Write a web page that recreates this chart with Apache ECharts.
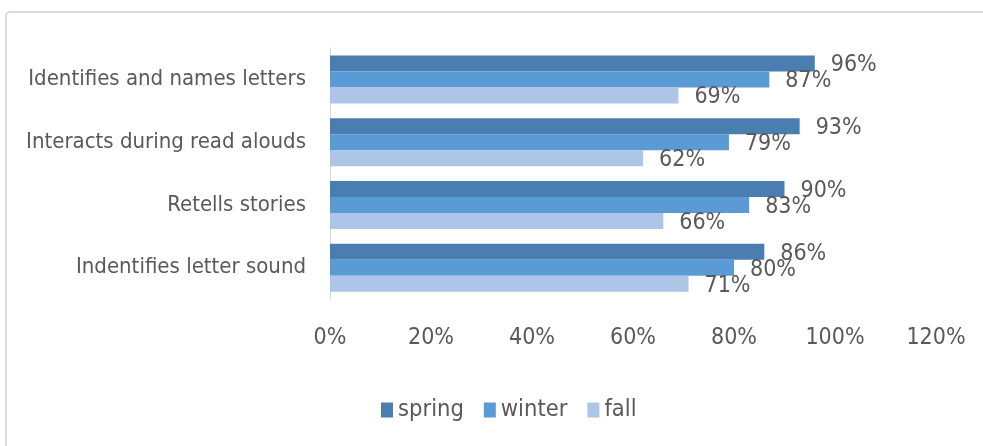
<!DOCTYPE html>
<html>
<head>
<meta charset="utf-8">
<script src="https://cdn.jsdelivr.net/npm/echarts@6/dist/echarts.min.js"></script>
<style>
html,body{margin:0;padding:0;background:#fff;}
#chart{width:983px;height:446px;}
</style>
</head>
<body>
<div id="chart"></div>
<script>
var categories = ['Identifies and names letters', 'Interacts during read alouds', 'Retells stories', 'Indentifies letter sound'];
var springValues = [96, 93, 90, 86];
var winterValues = [87, 79, 83, 80];
var fallValues = [69, 62, 66, 71];
var seriesNames = ['spring', 'winter', 'fall'];
var xTicks = [0, 20, 40, 60, 80, 100, 120];

var FONT = "'DejaVu Sans Condensed', 'Liberation Sans', sans-serif";
var TXT = '#595959';
var colors = ['#4a7eb0', '#5b9bd5', '#adc5e6'];

var chart = echarts.init(document.getElementById('chart'));
function mk(name, data, color) {
  return {
    name: name, type: 'bar', data: data, barWidth: 16, barGap: '0%',
    itemStyle: { color: color },
    label: { show: true, position: 'right', distance: 16, offset: [0, 2],
      formatter: '{c}%', fontFamily: FONT, fontSize: 23, color: TXT },
    emphasis: { disabled: true }
  };
}
chart.setOption({
  animation: false,
  backgroundColor: '#fff',
  graphic: [{
    type: 'rect', shape: { x: 6, y: 12, width: 1000, height: 460, r: 4 },
    style: { fill: 'none', stroke: '#d9d9d9', lineWidth: 2 }, silent: true
  }],
  grid: { left: 330, right: 47, top: 48, bottom: 147, containLabel: false },
  legend: {
    data: seriesNames, left: 376, top: 393, itemWidth: 12, itemHeight: 15, itemGap: 20,
    icon: 'rect',
    textStyle: { fontFamily: FONT, fontSize: 23.5, color: TXT }
  },
  xAxis: {
    type: 'value', min: xTicks[0], max: xTicks[xTicks.length - 1], interval: 20,
    axisLine: { show: false }, axisTick: { show: false }, splitLine: { show: false },
    axisLabel: { formatter: '{value}%', fontFamily: FONT, fontSize: 23, color: TXT, margin: 28 }
  },
  yAxis: {
    type: 'category', data: categories, inverse: true,
    axisLine: { show: true, lineStyle: { color: '#d9d9d9', width: 1 } },
    axisTick: { show: false },
    axisLabel: { fontFamily: FONT, fontSize: 22, color: TXT, margin: 24 }
  },
  series: [mk(seriesNames[0], springValues, colors[0]), mk(seriesNames[1], winterValues, colors[1]), mk(seriesNames[2], fallValues, colors[2])]
});
</script>
</body>
</html>
